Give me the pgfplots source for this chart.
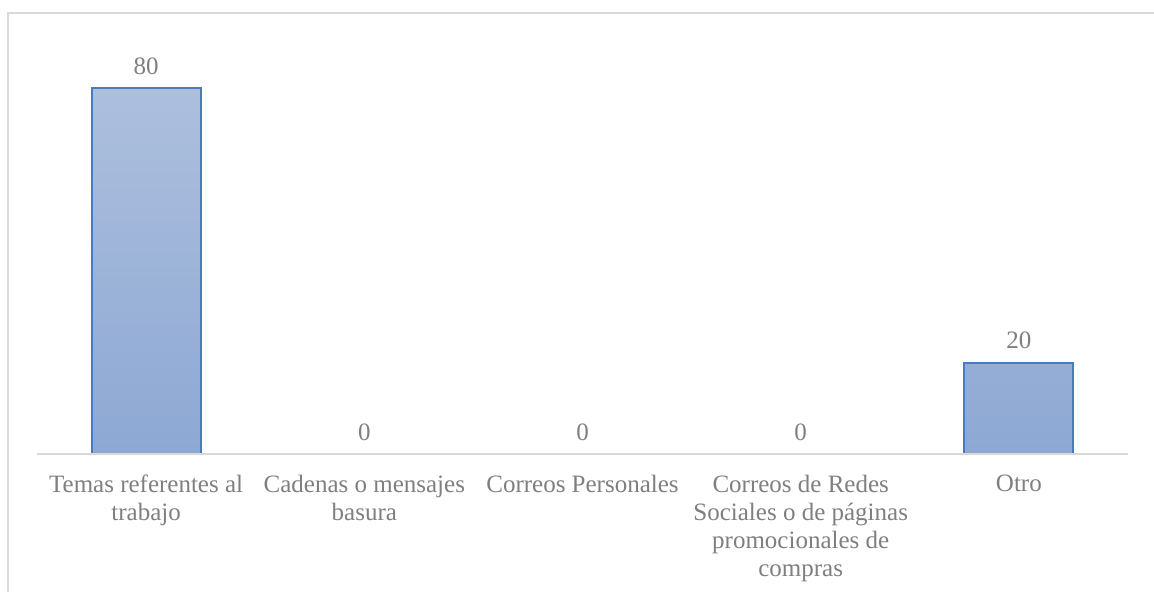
\documentclass[border=0pt]{standalone}
\usepackage{pgfplots}
\pgfplotsset{compat=1.18}
\usepackage{fontspec}
\setmainfont{Liberation Serif}

\definecolor{labelgray}{HTML}{7F7F7F}
\definecolor{framegray}{HTML}{D9D9D9}
\definecolor{barborder}{HTML}{4A7BC0}
\definecolor{bartop}{HTML}{ADBFDD}
\definecolor{barbottom}{HTML}{8DA8D4}

\begin{document}
\begin{tikzpicture}
\useasboundingbox (-18.5pt,-68.5pt) rectangle (558.5pt,227pt);
% chart frame (left and top edges)
\draw[framegray, line width=0.8pt] (-14.5pt,-70pt) -- (-14.5pt,220.5pt) -- (560pt,220.5pt);
\begin{axis}[
  at={(0,0)}, anchor=south west,
  scale only axis,
  width=545.5pt, height=205.875pt,
  xmin=-0.5, xmax=4.5,
  ymin=0, ymax=90,
  axis x line*=bottom,
  axis y line=none,
  axis on top,
  /pgf/number format/assume math mode=true,
  x axis line style={draw=framegray, line width=0.8pt},
  xtick={0,1,2,3,4},
  xticklabels={
    {Temas referentes al\\trabajo},
    {Cadenas o mensajes\\basura},
    {Correos Personales},
    {Correos de Redes\\Sociales o de páginas\\promocionales de\\compras},
    {Otro}},
  major tick length=0pt,
  xticklabel style={align=center, text=labelgray,
    font=\fontsize{12.5}{14}\selectfont, yshift=-7pt},
  ybar,
  bar width=0.5,
  nodes near coords,
  every node near coord/.append style={text=labelgray,
    font=\fontsize{12.5}{14}\selectfont, yshift=3pt},
]
\addplot[draw=barborder, line width=1pt, top color=bartop, bottom color=barbottom]
  coordinates {(0,80) (1,0) (2,0) (3,0) (4,20)};
\end{axis}
\end{tikzpicture}
\end{document}
